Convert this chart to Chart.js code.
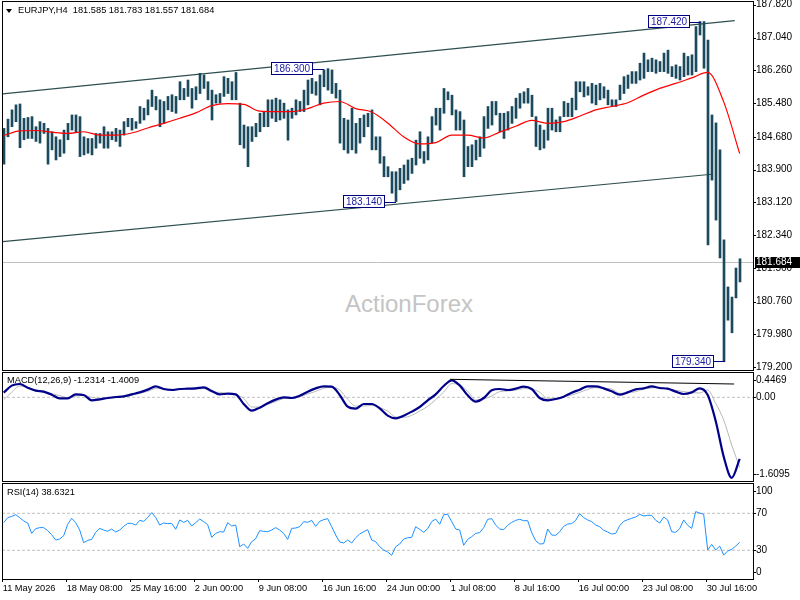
<!DOCTYPE html>
<html>
<head>
<meta charset="utf-8">
<title>EURJPY H4</title>
<script src="https://cdn.jsdelivr.net/npm/chart.js@4.4.1/dist/chart.umd.min.js"></script>
<style>
  html, body { margin: 0; padding: 0; background: #fff; }
  #wrap { position: relative; width: 800px; height: 600px; overflow: hidden; font-family: "Liberation Sans", Arial, sans-serif; }
  canvas { position: absolute; left: 0; z-index: 1; }
  .lbl { position: absolute; z-index: 2; font-size: 9.25px; line-height: 11px; color: #000; white-space: pre; }
  #wm { position: absolute; z-index: 0; left: 345px; top: 291px; font-size: 24px; line-height: 26px; color: #c4c4c4; }
  #tri { position: absolute; z-index: 2; left: 6px; top: 9px; width: 0; height: 0;
         border-left: 3px solid transparent; border-right: 3px solid transparent; border-top: 4px solid #000; }
</style>
</head>
<body>
<div id="wrap">
  <div id="wm">ActionForex</div>
  <canvas id="cPrice" width="800" height="373" style="top:0px"></canvas>
  <canvas id="cMacd" width="800" height="113" style="top:371px"></canvas>
  <canvas id="cRsi" width="800" height="118" style="top:482px"></canvas>
  <div id="tri"></div>
  <div class="lbl" id="hdr" style="left:18px;top:5px"></div>
  <div class="lbl" id="macdLbl" style="left:7px;top:375px"></div>
  <div class="lbl" id="rsiLbl" style="left:7px;top:487px"></div>
</div>
<script>
// values (11 May - early Aug 2026)
const symbol = "EURJPY";
const timeframe = "H4";
const lastBar = [181.585, 181.783, 181.557, 181.684]; // open, high, low, close

// one point per two H4 bars: high and low of the pair
const BARS_PER_POINT = 2;
const barHigh = [
  184.88, 185.10, 185.32, 185.44, 185.46, 185.12, 185.14, 185.16, 184.92, 185.04,
  185.00, 184.88, 184.80, 184.68, 184.61, 184.84, 185.00, 185.20, 185.20, 185.16,
  184.68, 184.64, 184.64, 184.76, 184.76, 184.92, 184.80, 184.80, 184.88, 184.84,
  185.04, 185.12, 185.12, 185.04, 185.40, 185.36, 185.56, 185.79, 185.64, 185.56,
  185.52, 185.64, 185.68, 185.64, 185.99, 185.83, 186.03, 185.83, 185.87, 186.19,
  186.15, 185.99, 185.79, 185.68, 185.71, 186.11, 186.07, 185.99, 186.21, 185.48,
  184.96, 184.92, 184.92, 185.00, 185.24, 185.28, 185.56, 185.56, 185.60, 185.56,
  185.48, 185.32, 185.36, 185.56, 185.52, 185.79, 186.03, 186.07, 185.99, 186.15,
  186.27, 186.30, 186.27, 185.95, 185.79, 185.12, 185.08, 185.36, 185.00, 185.12,
  185.20, 185.24, 185.32, 184.68, 184.68, 184.21, 183.97, 183.85, 183.85, 183.93,
  184.01, 184.13, 184.17, 184.60, 184.80, 184.33, 184.68, 185.16, 185.36, 185.36,
  185.83, 185.75, 185.67, 185.32, 185.28, 185.08, 184.45, 184.49, 184.60, 184.68,
  185.16, 185.40, 185.52, 185.52, 185.24, 185.24, 185.28, 185.40, 185.60, 185.71,
  185.75, 185.83, 185.67, 185.16, 184.96, 184.84, 185.36, 185.36, 185.08, 185.16,
  185.52, 185.48, 185.60, 185.99, 185.99, 185.99, 185.87, 185.95, 185.91, 185.95,
  185.87, 185.79, 185.56, 185.56, 185.91, 186.11, 186.15, 186.23, 186.23, 186.43,
  186.67, 186.51, 186.55, 186.51, 186.47, 186.67, 186.74, 186.35, 186.39, 186.35,
  186.67, 186.59, 186.63, 187.30, 187.42, 187.42, 186.98, 185.20, 185.01, 184.37,
  182.23, 181.11, 180.87, 181.56, 181.78
];
const barLow = [
  184.03, 184.68, 184.92, 185.04, 184.42, 184.61, 184.64, 184.64, 184.57, 184.53,
  184.76, 184.03, 184.37, 184.13, 184.21, 184.29, 184.61, 184.84, 184.80, 184.21,
  184.25, 184.29, 184.25, 184.41, 184.53, 184.41, 184.41, 184.61, 184.57, 184.45,
  184.72, 184.92, 184.84, 184.88, 185.00, 185.08, 185.20, 185.40, 185.32, 184.92,
  185.00, 185.32, 185.28, 185.24, 185.56, 185.56, 185.64, 185.36, 185.56, 185.71,
  185.83, 185.56, 185.08, 185.48, 185.48, 185.64, 185.71, 185.56, 185.56, 184.49,
  184.41, 183.97, 184.57, 184.68, 184.80, 184.92, 184.92, 185.12, 185.04, 185.08,
  185.12, 184.60, 185.12, 185.20, 185.28, 185.28, 185.44, 185.71, 185.67, 185.44,
  185.87, 185.79, 185.71, 185.60, 184.53, 184.37, 184.29, 184.37, 184.29, 184.53,
  184.68, 184.92, 184.37, 184.37, 184.05, 183.73, 183.73, 183.34, 183.14, 183.42,
  183.57, 183.65, 183.81, 184.01, 184.17, 184.05, 184.13, 184.53, 184.96, 184.84,
  185.24, 185.56, 185.20, 184.84, 184.84, 183.73, 183.97, 183.97, 184.13, 184.21,
  184.41, 184.88, 184.96, 185.20, 184.80, 184.64, 184.84, 185.00, 185.12, 185.36,
  185.48, 185.48, 185.16, 184.45, 184.37, 184.41, 184.60, 184.84, 184.80, 184.80,
  185.16, 185.16, 185.16, 185.32, 185.75, 185.63, 185.67, 185.48, 185.44, 185.56,
  185.60, 185.44, 185.40, 185.40, 185.56, 185.71, 185.83, 185.95, 185.95, 186.03,
  186.07, 186.23, 186.23, 186.19, 186.23, 186.23, 186.19, 186.11, 186.07, 186.03,
  186.11, 186.15, 186.15, 186.23, 187.10, 186.31, 182.11, 183.65, 182.70, 181.80,
  179.34, 180.32, 180.02, 180.85, 181.23
];

// red moving average, one reading every 8 H4 bars
const MA_STEP = 8;
const maValues = [
  184.71, 184.82, 184.83, 184.79, 184.76, 184.80, 184.72, 184.72, 184.77, 184.89,
  185.00, 185.12, 185.25, 185.42, 185.47, 185.45, 185.29, 185.28, 185.28, 185.35,
  185.48, 185.52, 185.35, 185.27, 185.01, 184.68, 184.51, 184.54, 184.72, 184.72,
  184.65, 184.79, 184.93, 185.07, 185.00, 185.04, 185.17, 185.32, 185.40, 185.49,
  185.67, 185.83, 185.95, 186.08, 186.21, 185.51, 184.28
];

// MACD(12,26,9) main and signal, one reading every 4 H4 bars
const MACD_STEP = 4;
const macdParams = [12, 26, 9];
const macdValues = [
  0.093, 0.233, 0.266, 0.193, 0.133, 0.113, 0.053, -0.021, -0.021, 0.059,
  0.046, -0.061, -0.041, -0.014, 0.006, 0.019, 0.059, 0.099, 0.153, 0.219,
  0.166, 0.146, 0.166, 0.173, 0.179, 0.199, 0.126, 0.059, 0.073, 0.059,
  -0.134, -0.267, -0.207, -0.121, -0.047, 0.000, -0.014, 0.033, 0.113, 0.179,
  0.219, 0.213, 0.046, -0.187, -0.227, -0.134, -0.134, -0.221, -0.367, -0.421,
  -0.367, -0.287, -0.194, -0.061, 0.059, 0.226, 0.339, 0.239, 0.039, -0.087,
  -0.014, 0.139, 0.166, 0.146, 0.173, 0.213, 0.166, -0.014, -0.061, -0.034,
  0.013, 0.093, 0.153, 0.219, 0.219, 0.179, 0.119, 0.053, 0.099, 0.159,
  0.179, 0.219, 0.186, 0.173, 0.113, 0.066, 0.099, 0.179, 0.046, -0.474,
  -1.187, -1.6095, -1.2314
];
const signalValues = [
  -0.047, 0.099, 0.226, 0.199, 0.146, 0.099, 0.073, 0.033, -0.007, 0.026,
  0.039, 0.000, -0.021, -0.021, -0.007, 0.006, 0.039, 0.079, 0.119, 0.173,
  0.173, 0.166, 0.159, 0.159, 0.166, 0.173, 0.106, 0.099, 0.073, 0.053,
  -0.021, -0.194, -0.194, -0.141, -0.087, -0.021, -0.007, 0.013, 0.066, 0.119,
  0.179, 0.206, 0.146, -0.041, -0.174, -0.174, -0.161, -0.207, -0.274, -0.394,
  -0.401, -0.361, -0.274, -0.181, -0.047, 0.106, 0.273, 0.246, 0.119, -0.054,
  -0.034, 0.026, 0.113, 0.126, 0.146, 0.173, 0.166, 0.099, -0.021, -0.021,
  0.019, 0.046, 0.099, 0.159, 0.193, 0.179, 0.166, 0.079, 0.093, 0.113,
  0.166, 0.186, 0.199, 0.166, 0.139, 0.113, 0.093, 0.086, 0.146, -0.121,
  -0.454, -0.954, -1.4009
];
// black line drawn on the MACD window (bar, value)
const macdTrend = [[223.6, 0.36], [365.7, 0.266]];

// RSI(14), one reading every 2 H4 bars
const RSI_STEP = 2;
const rsiPeriod = 14;
const rsiValues = [
  59.9, 65.3, 66.7, 68.5, 65.3, 61.7, 59.5, 48.3, 53.4, 54.5,
  54.5, 51.2, 46.9, 41.1, 42.2, 45.8, 58.1, 64.6, 59.9, 51.9,
  38.2, 40.8, 41.8, 49.4, 53.7, 51.9, 50.5, 53.0, 49.8, 51.9,
  55.9, 59.1, 59.1, 57.3, 62.4, 61.3, 65.3, 70.7, 65.6, 57.3,
  59.5, 58.8, 59.1, 52.7, 62.8, 60.2, 62.4, 56.3, 59.9, 63.8,
  61.0, 57.7, 44.0, 48.3, 50.1, 49.8, 59.9, 56.3, 57.3, 33.9,
  36.8, 32.1, 39.3, 42.6, 51.2, 50.5, 50.1, 51.9, 54.5, 51.9,
  48.3, 41.8, 53.7, 54.1, 55.5, 61.0, 60.2, 62.4, 55.9, 61.3,
  63.1, 64.2, 55.5, 46.5, 39.0, 37.9, 41.1, 37.9, 43.6, 47.6,
  50.1, 52.3, 41.1, 39.3, 33.9, 30.3, 28.2, 24.6, 33.9, 36.8,
  42.2, 43.6, 44.0, 55.5, 52.7, 49.4, 53.4, 61.0, 63.8, 58.1,
  68.5, 68.9, 61.0, 53.0, 51.9, 35.4, 41.8, 44.7, 48.3, 49.1,
  54.5, 63.5, 64.2, 57.3, 53.0, 52.3, 57.0, 60.2, 62.4, 63.5,
  62.0, 62.0, 49.1, 40.4, 36.8, 37.2, 53.0, 46.5, 46.2, 50.1,
  55.9, 58.4, 58.8, 62.4, 69.6, 65.3, 62.8, 61.0, 57.3, 55.5,
  51.6, 49.8, 47.6, 48.3, 56.6, 61.3, 63.1, 64.6, 66.0, 68.9,
  67.1, 67.8, 67.8, 62.4, 59.5, 66.0, 62.8, 50.1, 49.4, 53.4,
  62.8, 57.0, 53.7, 71.8, 70.3, 68.9, 30.3, 36.4, 30.3, 34.6,
  24.9, 29.2, 31.0, 34.6, 38.6321
];
const rsiLevels = [70, 30];

// time axis: a label every 32 H4 bars
const LABEL_EVERY = 32;
const timeLabels = [
  "11 May 2026", "18 May 08:00", "25 May 16:00", "2 Jun 00:00", "9 Jun 08:00", "16 Jun 16:00",
  "24 Jun 00:00", "1 Jul 08:00", "8 Jul 16:00", "16 Jul 00:00", "23 Jul 08:00", "30 Jul 16:00"
];

const priceTicks = [187.82, 187.04, 186.26, 185.48, 184.68, 183.90, 183.12, 182.34, 181.56, 180.76, 179.98, 179.20];
const macdTicks = [0.4469, 0, -1.6095];
const macdTickText = ["0.4469", "0.00", "-1.6095"];
const rsiTicks = [100, 70, 30, 0];

// channel drawn on the price window (bar, price)
const channelUpper = [[0, 185.70], [366, 187.44]];
const channelLower = [[0, 182.19], [354.5, 183.79]];
// swing highs / lows that carry a price tag (bar, price)
const swingLabels = [[160, 186.300], [196.2, 183.140], [348.7, 187.420], [360.7, 179.340]];

// ---------------------------------------------------------------
const X_MIN = -0.35, X_MAX = 375.15;
const FONT = '"Liberation Sans", Arial, sans-serif';

Chart.defaults.animation = false;
Chart.defaults.events = [];
Chart.defaults.font.family = FONT;
Chart.defaults.plugins.legend.display = false;
Chart.defaults.plugins.tooltip.enabled = false;

document.getElementById("hdr").textContent =
  symbol + "," + timeframe + "  " + lastBar.map(v => v.toFixed(3)).join(" ");
document.getElementById("macdLbl").textContent =
  "MACD(" + macdParams.join(",") + ") " + macdValues[macdValues.length - 1].toFixed(4) +
  " " + signalValues[signalValues.length - 1].toFixed(4);
document.getElementById("rsiLbl").textContent =
  "RSI(" + rsiPeriod + ") " + rsiValues[rsiValues.length - 1].toFixed(4);

const pts = (arr, step) => arr.map((v, i) => ({ x: i * step + 0.5, y: v }));
const seg = (arr) => arr.map(p => ({ x: p[0], y: p[1] }));
const level = (v) => [{ x: X_MIN, y: v }, { x: X_MAX, y: v }];

// black frame round each window
const frame = {
  id: "frame",
  afterDraw(chart) {
    const { ctx, chartArea: a } = chart;
    ctx.save();
    ctx.strokeStyle = "#000";
    ctx.lineWidth = 1;
    ctx.strokeRect(a.left + 0.5, a.top - 0.5, a.right - a.left, a.bottom - a.top + 1);
    ctx.restore();
  }
};

// right hand price labels, MT4 style (edge labels kept inside the window)
function axisLabels(values, texts, inset) {
  return {
    id: "axisLabels",
    afterDraw(chart) {
      const { ctx, chartArea: a } = chart;
      const y = chart.scales.y;
      ctx.save();
      ctx.font = "10px " + FONT;
      ctx.fillStyle = "#000";
      ctx.strokeStyle = "#000";
      ctx.lineWidth = 1;
      ctx.textAlign = "left";
      ctx.textBaseline = "middle";
      values.forEach((v, i) => {
        let py = y.getPixelForValue(v);
        if (inset) py = Math.min(Math.max(py, a.top + inset), a.bottom - inset);
        const row = Math.round(py) + 0.5;
        ctx.beginPath();
        ctx.moveTo(a.right, row);
        ctx.lineTo(a.right + 3, row);
        ctx.stroke();
        ctx.fillText(texts[i], a.right + 3, py);
      });
      ctx.restore();
    }
  };
}

const priceExtras = {
  id: "priceExtras",
  beforeDatasetsDraw(chart) {
    const { ctx, chartArea: a } = chart;
    const py = Math.round(chart.scales.y.getPixelForValue(lastBar[3])) - 0.5;
    ctx.save();
    ctx.strokeStyle = "#c0c0c0";
    ctx.lineWidth = 1;
    ctx.beginPath();
    ctx.moveTo(a.left, py);
    ctx.lineTo(a.right, py);
    ctx.stroke();
    ctx.restore();
  },
  afterDatasetsDraw(chart) {
    const { ctx } = chart;
    const { x, y } = chart.scales;
    ctx.save();
    ctx.font = "10px " + FONT;
    ctx.lineWidth = 1;
    swingLabels.forEach(([bar, price]) => {
      const text = price.toFixed(3);
      const bx = Math.round(x.getPixelForValue(bar));
      const py = y.getPixelForValue(price);
      const w = Math.round(ctx.measureText(text).width) + 6, h = 13;
      const right = bx - 10, top = Math.round(py - h / 2);
      ctx.fillStyle = "#fff";
      ctx.fillRect(right - w, top, w, h);
      ctx.strokeStyle = "#000080";
      ctx.strokeRect(right - w + 0.5, top + 0.5, w - 1, h - 1);
      ctx.beginPath();
      ctx.moveTo(right, Math.round(py) + 0.5);
      ctx.lineTo(bx + 1, Math.round(py) + 0.5);
      ctx.stroke();
      ctx.fillStyle = "#1c1ca6";
      ctx.textBaseline = "middle";
      ctx.textAlign = "left";
      ctx.fillText(text, right - w + 3, top + h / 2 + 0.5);
    });
    ctx.restore();
  },
  afterDraw(chart) {
    const { ctx, chartArea: a } = chart;
    const py = Math.round(chart.scales.y.getPixelForValue(lastBar[3]));
    ctx.save();
    ctx.fillStyle = "#000";
    ctx.fillRect(a.right + 2, py - 6, chart.width - a.right - 2, 11);
    ctx.fillStyle = "#fff";
    ctx.font = "10px " + FONT;
    ctx.textBaseline = "middle";
    ctx.fillText(lastBar[3].toFixed(3), a.right + 3, py - 0.5);
    ctx.restore();
  }
};

const xHidden = { type: "linear", min: X_MIN, max: X_MAX, display: false, offset: false, grid: { offset: false } };
const yRight = (min, max) => ({
  position: "right", min, max,
  afterFit: s => { s.width = 47; },
  ticks: { display: false },
  grid: { display: false },
  border: { display: false }
});

// price window
new Chart(document.getElementById("cPrice"), {
  type: "bar",
  data: {
    datasets: [
      { type: "line", order: 0, data: pts(maValues, MA_STEP), borderColor: "#ff0000", borderWidth: 1.2,
        pointRadius: 0, cubicInterpolationMode: "monotone" },
      // each bar sits on whole pixels so the thin verticals stay crisp
      { type: "bar", order: 1, data: barHigh.map((h, k) => ({ x: k * BARS_PER_POINT + 0.65, y: [barLow[k], h] })),
        backgroundColor: "#1b4a5e", barThickness: 2 },
      { type: "line", order: 2, data: seg(channelUpper), borderColor: "#2f4f4f", borderWidth: 1.2, pointRadius: 0 },
      { type: "line", order: 2, data: seg(channelLower), borderColor: "#2f4f4f", borderWidth: 1.2, pointRadius: 0 }
    ]
  },
  options: {
    responsive: false,
    layout: { autoPadding: false, padding: { left: 2, right: 0, top: 2, bottom: 3 } },
    scales: { x: xHidden, y: yRight(179.136, 187.885) }
  },
  plugins: [frame, axisLabels(priceTicks, priceTicks.map(v => v.toFixed(3)), 0), priceExtras]
});

// MACD window
new Chart(document.getElementById("cMacd"), {
  type: "line",
  data: {
    datasets: [
      { order: 0, data: seg(macdTrend), borderColor: "#000", borderWidth: 1, pointRadius: 0 },
      { order: 1, data: pts(macdValues, MACD_STEP), borderColor: "#00008b", borderWidth: 2.2,
        pointRadius: 0, cubicInterpolationMode: "monotone" },
      { order: 2, data: pts(signalValues, MACD_STEP), borderColor: "#b8b8b8", borderWidth: 1,
        pointRadius: 0, cubicInterpolationMode: "monotone" },
      { order: 3, data: level(0), borderColor: "#c0c0c0", borderWidth: 1, borderDash: [3, 2], pointRadius: 0 }
    ]
  },
  options: {
    responsive: false,
    layout: { autoPadding: false, padding: { left: 2, right: 0, top: 2, bottom: 3 } },
    scales: { x: xHidden, y: yRight(-1.674, 0.486) }
  },
  plugins: [frame, axisLabels(macdTicks, macdTickText, 7)]
});

// RSI window with the time axis
new Chart(document.getElementById("cRsi"), {
  type: "line",
  data: {
    datasets: [
      { order: 0, data: pts(rsiValues, RSI_STEP), borderColor: "#1e90ff", borderWidth: 1, pointRadius: 0 },
      ...rsiLevels.map(v => ({ order: 1, data: level(v), borderColor: "#c0c0c0", borderWidth: 1,
        borderDash: [3, 2], pointRadius: 0 }))
    ]
  },
  options: {
    responsive: false,
    layout: { autoPadding: false, padding: { left: 2, right: 0, top: 2, bottom: 0 } },
    scales: {
      x: {
        type: "linear", min: X_MIN, max: X_MAX, position: "bottom", offset: false,
        afterBuildTicks: s => { s.ticks = timeLabels.map((t, n) => ({ value: n * LABEL_EVERY })); },
        afterFit: s => { s.height = 21; },
        ticks: { autoSkip: false, maxRotation: 0, minRotation: 0, align: "start", padding: 1,
                 color: "#000", font: { size: 9.25 }, callback: (v, i) => timeLabels[i] },
        grid: { drawOnChartArea: false, drawTicks: true, tickLength: 3, color: "#000", offset: false },
        border: { display: false }
      },
      y: yRight(-1.03, 101.68)
    }
  },
  plugins: [frame, axisLabels(rsiTicks, rsiTicks.map(String), 7)]
});
</script>
</body>
</html>
